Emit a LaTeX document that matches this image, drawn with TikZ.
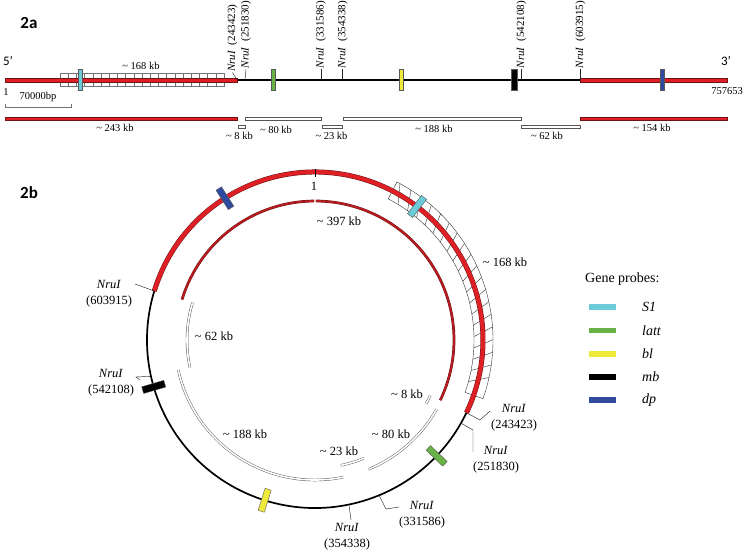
\documentclass[tikz,border=0pt]{standalone}
\usepackage{fontspec}
\setmainfont{Liberation Serif}
\newfontfamily\headfont{Carlito}
\usetikzlibrary{calc,arrows.meta}
\definecolor{cyanp}{RGB}{108,203,216}
\definecolor{greenp}{RGB}{103,179,70}
\definecolor{yellowp}{RGB}{238,234,58}
\definecolor{bluep}{RGB}{47,74,158}
\definecolor{redfill}{RGB}{222,32,38}
\definecolor{redline}{RGB}{110,20,20}
\definecolor{innerred}{RGB}{185,28,32}
\definecolor{fragline}{RGB}{85,85,85}
\begin{document}
\begin{tikzpicture}[x=1pt,y=-1pt,
  redbar/.style={draw=redline, fill=redfill, line width=0.5pt},
  whitebar/.style={draw=fragline, fill=white, line width=0.5pt},
  gprobe/.style={draw=black!65, line width=0.4pt, inner sep=0pt, minimum width=4.5pt, minimum height=21pt},
  cprobe/.style={draw=black!65, line width=0.4pt, inner sep=0pt, minimum width=23pt, minimum height=6.5pt},
  txt/.style={font=\fontsize{10.5}{12}\selectfont, inner sep=0.5pt},
  btxt/.style={font=\fontsize{12.5}{14}\selectfont, inner sep=0.5pt},
  rlab/.style={font=\fontsize{11}{12}\selectfont, rotate=90, anchor=west, inner sep=0.5pt},
  nrulab/.style={font=\fontsize{12.5}{16}\selectfont, align=center, inner sep=0pt},
  lead/.style={draw=black!85, line width=0.45pt},
  redring/.style={draw=redline, double=redfill, double distance=4pt, line width=0.5pt},
  innerring/.style={draw=redline, double=innerred, double distance=1.8pt, line width=0.45pt},
  fragbar/.style={draw=fragline, double=white, double distance=1.6pt, line width=0.45pt},
  hatchline/.style={draw=black!80, line width=0.4pt},
  swatch/.style={inner sep=0pt, minimum width=27pt, minimum height=5.5pt},
  legtxt/.style={font=\fontsize{14}{16}\selectfont\itshape, anchor=west, inner sep=0pt}]
\useasboundingbox (0,0) rectangle (745,554);

% ---------------- 2a ----------------
\node[font=\headfont\bfseries\fontsize{17}{19}\selectfont] (t2a) at (29,22.5) {2a};
\node[font=\headfont\fontsize{13}{15}\selectfont] (five) at (8,61) {5’};
\node[font=\headfont\fontsize{13}{15}\selectfont] (three) at (726,61) {3’};

% hatched grid
\draw[draw=black!55, line width=0.4pt] (60,73.5) rectangle (224,86.5);
\foreach \i in {1,...,19} \draw[draw=black!55, line width=0.4pt] ({60+8.2*\i},73.5) -- ++(0,13);

% main line
\draw[line width=1.2pt] (237,80) -- (580.5,80);
\draw[redbar] (5,78) rectangle (237,82);
\draw[redbar] (580.5,78) rectangle (727,82);

\node[gprobe, fill=cyanp] (l1) at (80,80) {};
\node[gprobe, fill=greenp] (l2) at (273,80) {};
\node[gprobe, fill=yellowp] (l3) at (401,80) {};
\node[gprobe, fill=black, minimum width=5.5pt] (l4) at (514,80) {};
\node[gprobe, fill=bluep] (l5) at (662,80) {};

\node[txt] (k168) at (141,66) {\textasciitilde{} 168 kb};
\node[txt] (one) at (6,92) {1};
\node[txt] (end) at (727,91) {757653};
\node[txt] (sc) at (38,97) {70000bp};
\draw[draw=black!55, line width=0.6pt] (5,104) -- (5,107) -- (71.7,107) -- (71.7,104);

% rotated NruI labels
\coordinate (c1) at (237,80);
\coordinate (c2) at (245,80);
\coordinate (c3) at (321,80);
\coordinate (c4) at (342.7,80);
\coordinate (c5) at (521.6,80);
\coordinate (c6) at (580.5,80);
\node[rlab] (r1) at (232.5,72.5) {\textit{NruI}\hspace{0.5em}(243423)};
\node[rlab] (r2) at (246,69) {\textit{NruI}\hspace{0.5em}(251830)};
\node[rlab] (r3) at (321,69) {\textit{NruI}\hspace{0.5em}(331586)};
\node[rlab] (r4) at (342.7,69) {\textit{NruI}\hspace{0.5em}(354338)};
\node[rlab] (r5) at (521.6,69) {\textit{NruI}\hspace{0.5em}(542108)};
\node[rlab] (r6) at (580.5,69) {\textit{NruI}\hspace{0.5em}(603915)};
\draw[lead] (c1) -- (r1.west);
\draw[lead] (c2) -- (r2.west);
\draw[lead] (c3) -- (r3.west);
\draw[lead] (c4) -- (r4.west);
\draw[lead] (c5) -- (r5.west);
\draw[lead] (c6) -- (r6.west);

% fragments
\draw[redbar] (5,117.5) rectangle (237,120.5);
\draw[whitebar] (238,125.5) rectangle (245.5,128);
\draw[whitebar] (245.5,117.5) rectangle (321,120);
\draw[whitebar] (322,125.5) rectangle (342.7,128);
\draw[whitebar] (343.5,117.5) rectangle (521.6,120);
\draw[whitebar] (521.6,125.5) rectangle (580.5,128);
\draw[redbar] (580.5,117.5) rectangle (727,120.5);
\node[txt] (f1) at (115,128) {\textasciitilde{} 243 kb};
\node[txt] (f2) at (239.5,135.5) {\textasciitilde{} 8 kb};
\node[txt] (f3) at (276,129.5) {\textasciitilde{} 80 kb};
\node[txt] (f4) at (331.5,135.5) {\textasciitilde{} 23 kb};
\node[txt] (f5) at (434,129) {\textasciitilde{} 188 kb};
\node[txt] (f6) at (547,135.5) {\textasciitilde{} 62 kb};
\node[txt] (f7) at (652,128) {\textasciitilde{} 154 kb};

% ---------------- 2b ----------------
\node[font=\headfont\bfseries\fontsize{17}{19}\selectfont] (t2b) at (29,192.5) {2b};
\coordinate (C) at (315,340);

% hatched band
\draw[hatchline] ($(C)+(-62.58:159)$) arc[start angle=-62.58, end angle=19.24, radius=159]
  -- ($(C)+(19.24:178)$) arc[start angle=19.24, end angle=-62.58, radius=178] -- cycle;
\foreach \i in {1,...,19}
  \draw[hatchline] ($(C)+({-62.58+4.091*\i}:159)$) -- ($(C)+({-62.58+4.091*\i-3}:178)$);

% genome circle
\draw[line width=1.7pt] ($(C)+(25.66:168)$) arc[start angle=25.66, end angle=196.95, radius=168];
\draw[redring] ($(C)+(196.95:168)$) arc[start angle=196.95, end angle=385.66, radius=168];
\draw[line width=0.6pt] ($(C)+(-90:163)$) -- ($(C)+(-90:171)$);
\node[btxt] (one2) at (314,186) {1};

% probes on circle
\node[cprobe, fill=cyanp, rotate=52.61] (q1) at ($(C)+(-52.61:168)$) {};
\node[cprobe, fill=greenp, rotate=-43.61] (q2) at ($(C)+(43.61:168)$) {};
\node[cprobe, fill=yellowp, rotate=-107.43] (q3) at ($(C)+(107.43:168)$) {};
\node[cprobe, fill=black, rotate=-163.78, minimum height=7pt] (q4) at ($(C)+(163.78:168)$) {};
\node[cprobe, fill=bluep, rotate=-237.57] (q5) at ($(C)+(237.57:168)$) {};

% inner fragments
\draw[innerring] ($(C)+(196.95:139)$) arc[start angle=196.95, end angle=269.6, radius=139];
\draw[innerring] ($(C)+(270.4:139)$) arc[start angle=270.4, end angle=385.66, radius=139];
\draw[fragbar] ($(C)+(25.66:128)$) arc[start angle=25.66, end angle=29.66, radius=128];
\draw[fragbar] ($(C)+(29.66:140)$) arc[start angle=29.66, end angle=67.55, radius=140];
\draw[fragbar] ($(C)+(67.55:128)$) arc[start angle=67.55, end angle=78.37, radius=128];
\draw[fragbar] ($(C)+(78.37:140)$) arc[start angle=78.37, end angle=167.58, radius=140];
\draw[fragbar] ($(C)+(167.58:128)$) arc[start angle=167.58, end angle=196.95, radius=128];

\node[btxt] (g397) at (339,221) {\textasciitilde{} 397 kb};
\node[btxt] (g168) at (505,262) {\textasciitilde{} 168 kb};
\node[btxt] (g8) at (407,394.5) {\textasciitilde{} 8 kb};
\node[btxt] (g80) at (391,434.5) {\textasciitilde{} 80 kb};
\node[btxt] (g23) at (339,451) {\textasciitilde{} 23 kb};
\node[btxt] (g188) at (245,434.5) {\textasciitilde{} 188 kb};
\node[btxt] (g62) at (214,336) {\textasciitilde{} 62 kb};

% NruI labels on circle
\coordinate (k243) at ($(C)+(25.66:168)$);
\coordinate (k251) at ($(C)+(29.66:168)$);
\coordinate (k331) at ($(C)+(67.55:169)$);
\coordinate (k354) at ($(C)+(78.37:169)$);
\coordinate (k542) at ($(C)+(167.58:169)$);
\coordinate (k603) at ($(C)+(196.95:168)$);
\node[nrulab] (b603) at (109,294) {\textit{NruI}\\(603915)};
\node[nrulab] (b542) at (111,383) {\textit{NruI}\\(542108)};
\node[nrulab] (b243) at (514,418) {\textit{NruI}\\(243423)};
\node[nrulab] (b251) at (496,460) {\textit{NruI}\\(251830)};
\node[nrulab] (b331) at (422,515) {\textit{NruI}\\(331586)};
\node[nrulab] (b354) at (347,537) {\textit{NruI}\\(354338)};
\coordinate (e603) at (135,284);
\coordinate (e542) at (136,377);
\coordinate (e243) at (490,411);
\coordinate (e251) at (473,452);
\coordinate (e331) at (399,507);
\coordinate (e354) at (351,520);
\draw[lead] (k603) -- (e603);
\draw[lead] (k542) -- (e542) -- ++(4,3);
\draw[lead] (k243) -- (480,420) -- (e243);
\draw[lead] (k251) -- (473,430) -- (e251);
\draw[lead] (k331) -- (386,509) -- (e331);
\draw[lead] (k354) -- (e354);

% legend
\node[font=\fontsize{14}{16}\selectfont, anchor=west, inner sep=0pt] (gp) at (585,279) {Gene probes:};
\node[swatch, fill=cyanp] (s1) at (602.5,307) {};
\node[swatch, fill=greenp] (s2) at (602.5,330.5) {};
\node[swatch, fill=yellowp] (s3) at (602.5,354) {};
\node[swatch, fill=black] (s4) at (602.5,377) {};
\node[swatch, fill=bluep] (s5) at (602.5,400) {};
\node[legtxt] (m1) at (642,307) {S1};
\node[legtxt] (m2) at (642,330.5) {latt};
\node[legtxt] (m3) at (642,354) {bl};
\node[legtxt] (m4) at (642,377) {mb};
\node[legtxt] (m5) at (642,400) {dp};
\end{tikzpicture}
\end{document}
